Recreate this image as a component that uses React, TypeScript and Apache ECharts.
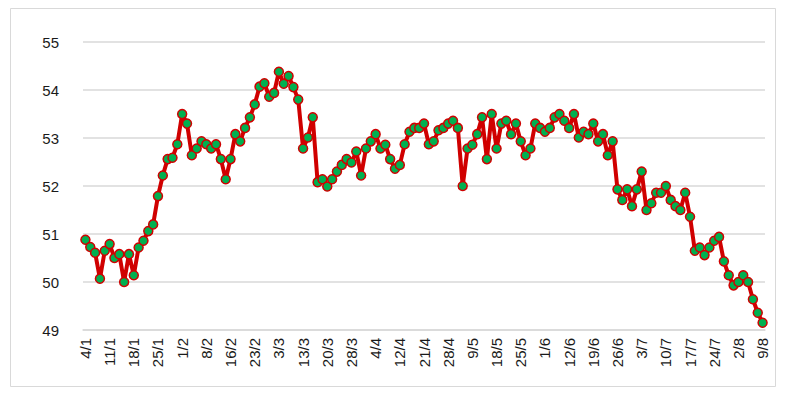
import React, { useEffect, useRef } from "react";
import * as echarts from "echarts";

const tickLabels = [
  "4/1", "11/1", "18/1", "25/1", "1/2", "8/2", "16/2", "23/2", "3/3", "13/3",
  "20/3", "28/3", "4/4", "12/4", "21/4", "28/4", "9/5", "18/5", "25/5", "1/6",
  "12/6", "19/6", "26/6", "3/7", "10/7", "17/7", "24/7", "2/8", "9/8",
];

const values = [
  50.88, 50.73, 50.61, 50.07, 50.65, 50.79, 50.5, 50.58, 50.0, 50.58,
  50.14, 50.72, 50.86, 51.06, 51.2, 51.79, 52.22, 52.56, 52.59, 52.87,
  53.5, 53.3, 52.64, 52.78, 52.93, 52.87, 52.78, 52.87, 52.56, 52.14,
  52.56, 53.08, 52.93, 53.21, 53.43, 53.7, 54.07, 54.14, 53.86, 53.94,
  54.38, 54.13, 54.29, 54.06, 53.8, 52.78, 53.01, 53.43, 52.08, 52.14,
  51.99, 52.14, 52.3, 52.44, 52.56, 52.49, 52.72, 52.22, 52.78, 52.93,
  53.08, 52.78, 52.86, 52.56, 52.36, 52.44, 52.87, 53.13, 53.21, 53.21,
  53.3, 52.87, 52.93, 53.16, 53.21, 53.3, 53.36, 53.21, 52.0, 52.78,
  52.86, 53.08, 53.43, 52.56, 53.5, 52.78, 53.3, 53.36, 53.08, 53.3,
  52.93, 52.64, 52.78, 53.3, 53.21, 53.13, 53.21, 53.43, 53.5, 53.36,
  53.21, 53.5, 53.01, 53.13, 53.08, 53.3, 52.93, 53.08, 52.64, 52.93,
  51.93, 51.71, 51.93, 51.58, 51.93, 52.3, 51.5, 51.64, 51.86, 51.86,
  52.0, 51.71, 51.58, 51.5, 51.86, 51.36, 50.65, 50.72, 50.56, 50.72,
  50.86, 50.94, 50.43, 50.14, 49.93, 50.0, 50.14, 50.0, 49.64, 49.36,
  49.15,
];

const categories = values.map((_, i) => (i % 5 === 0 ? tickLabels[i / 5] : ""));

export default function App() {
  const ref = useRef<HTMLDivElement>(null);
  useEffect(() => {
    if (!ref.current) return;
    const chart = echarts.init(ref.current, null, { renderer: "svg" });
    chart.setOption({
      animation: false,
      backgroundColor: "#ffffff",
      graphic: [
        {
          type: "rect",
          shape: { x: 10.5, y: 8.5, width: 765, height: 378 },
          style: { fill: "none", stroke: "#d9d9d9", lineWidth: 1 },
          silent: true,
        },
      ],
      grid: { left: 83, right: 20, top: 42, height: 288 },
      xAxis: {
        type: "category",
        data: categories,
        boundaryGap: true,
        axisLine: { show: true, lineStyle: { color: "#d9d9d9", width: 1.5 } },
        axisTick: { show: false },
        axisLabel: {
          interval: 4,
          rotate: 90,
          margin: 8,
          color: "#1a1a1a",
          fontSize: 15,
          fontFamily: "Liberation Sans, Arial, sans-serif",
        },
        splitLine: { show: false },
      },
      yAxis: {
        type: "value",
        min: 49,
        max: 55,
        interval: 1,
        axisLine: { show: false },
        axisTick: { show: false },
        axisLabel: {
          margin: 24,
          color: "#1a1a1a",
          fontSize: 15,
          fontFamily: "Liberation Sans, Arial, sans-serif",
        },
        splitLine: { show: true, lineStyle: { color: "#d9d9d9", width: 1.5 } },
      },
      series: [
        {
          type: "line",
          data: values,
          showSymbol: true,
          showAllSymbol: true,
          symbol: "circle",
          symbolSize: 9,
          lineStyle: { color: "#d00000", width: 4 },
          itemStyle: { color: "#00b050", borderColor: "#d00000", borderWidth: 1.5 },
        },
      ],
    });
    return () => chart.dispose();
  }, []);
  return (
    <div
      ref={ref}
      style={{ position: "fixed", left: 0, top: 0, width: 785, height: 397 }}
    />
  );
}
